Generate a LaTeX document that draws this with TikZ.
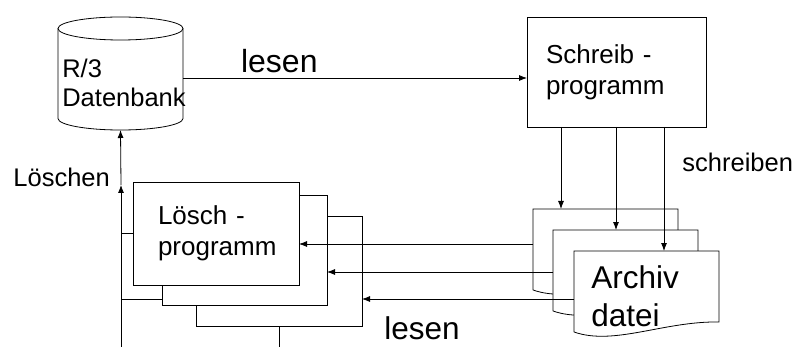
\documentclass[tikz,border=0pt]{standalone}
\usepackage{fontspec}
\setmainfont{Liberation Sans}
\usetikzlibrary{arrows.meta,positioning,calc}

\tikzset{
  prog/.style={draw,fill=white,align=left,anchor=north west,outer sep=0pt,
    inner ysep=0pt,font=\fontsize{26}{31}\selectfont},
  docbox/.style={anchor=north west,inner sep=0pt,outer sep=0pt,
    minimum width=145pt,minimum height=81pt},
  txt/.style={inner sep=0pt,font=\fontsize{25.5}{29}\selectfont},
  bigtxt/.style={inner sep=0pt,font=\fontsize{31.5}{38}\selectfont}
}

\begin{document}
\begin{tikzpicture}[x=1pt,y=-1pt,line width=0.8pt,>={Latex[length=8pt,width=6pt]}]
\useasboundingbox (0,0) rectangle (799,347);

% datenbank
\node[inner sep=0pt,outer sep=0pt,minimum width=125pt,minimum height=113pt] (db) at (120.5,73.5) {};
\draw ($(db.north)+(0,11.5)$) ellipse [x radius=62.5pt,y radius=11.5pt];
\draw ($(db.north west)+(0,11.5)$) -- ($(db.south west)+(0,-11.5)$)
  arc[start angle=180,end angle=360,x radius=62.5pt,y radius=11.5pt]
  -- ($(db.north east)+(0,11.5)$);
\node[txt,align=left] (dbtxt) at (124,82.5) {R/3\\Datenbank};

% schreibprogramm
\node[prog,text width=141pt,inner xsep=19pt,minimum height=110pt] (schreib) at (527,17)
  {Schreib -\\programm};

% loeschprogramme
\node[prog,minimum width=166pt,minimum height=110pt,inner sep=0pt] (loe3) at (196,216) {};
\node[prog,minimum width=165pt,minimum height=110pt,inner sep=0pt] (loe2) at (162,195) {};
\node[prog,text width=116pt,inner xsep=25pt,minimum height=103pt] (loe1) at (133,182)
  {Lösch -\\programm};

% archivdateien
\foreach \i/\x/\y in {1/533/209,2/553/230,3/574/251}{
  \node[docbox] (arc\i) at (\x,\y) {};
  \draw[fill=white] (arc\i.south west) -- (arc\i.north west) -- (arc\i.north east)
    -- ($(arc\i.north west)+(145,71)$)
    .. controls ($(arc\i.north west)+(90,70)$) and ($(arc\i.north west)+(40,95)$)
    .. (arc\i.south west);
}
\node[bigtxt,align=left,anchor=north west] (arctxt) at (591,265) {Archiv\\datei};

% lesen
\draw[->] (db.east |- 0,78) -- (schreib.west |- 0,78)
  node[pos=.28,anchor=base,yshift=5pt,inner sep=0pt,font=\fontsize{32}{38}\selectfont] {lesen};

% schreiben
\foreach \i/\x in {1/561,2/616,3/664}
  \draw[->] (schreib.south -| \x,0) -- (arc\i.north -| \x,0);
\node[txt,anchor=base west] (schrlbl) at (682,172) {schreiben};

% lesen zurueck
\foreach \i/\y in {1/244,2/272,3/299}
  \draw[->] (arc\i.west |- 0,\y) -- (loe\i.east |- 0,\y);
\node[bigtxt,anchor=base] (lesenb) at (422,339) {lesen};

% loeschen
\coordinate (lbot) at (121,347);
\coordinate (lmid) at (121,185);
\draw[->] (lbot) -- (lmid);
\draw[->] (lmid) -- (db.south);
\draw (loe1.west) -- (loe1.west -| lbot);
\draw (loe2.west |- 0,299) -- (lbot |- 0,299);
\draw (loe3.south) -- (loe3.south |- lbot);
\node[txt,anchor=base west] (loeschlbl) at (13,186) {Löschen};
\end{tikzpicture}
\end{document}
